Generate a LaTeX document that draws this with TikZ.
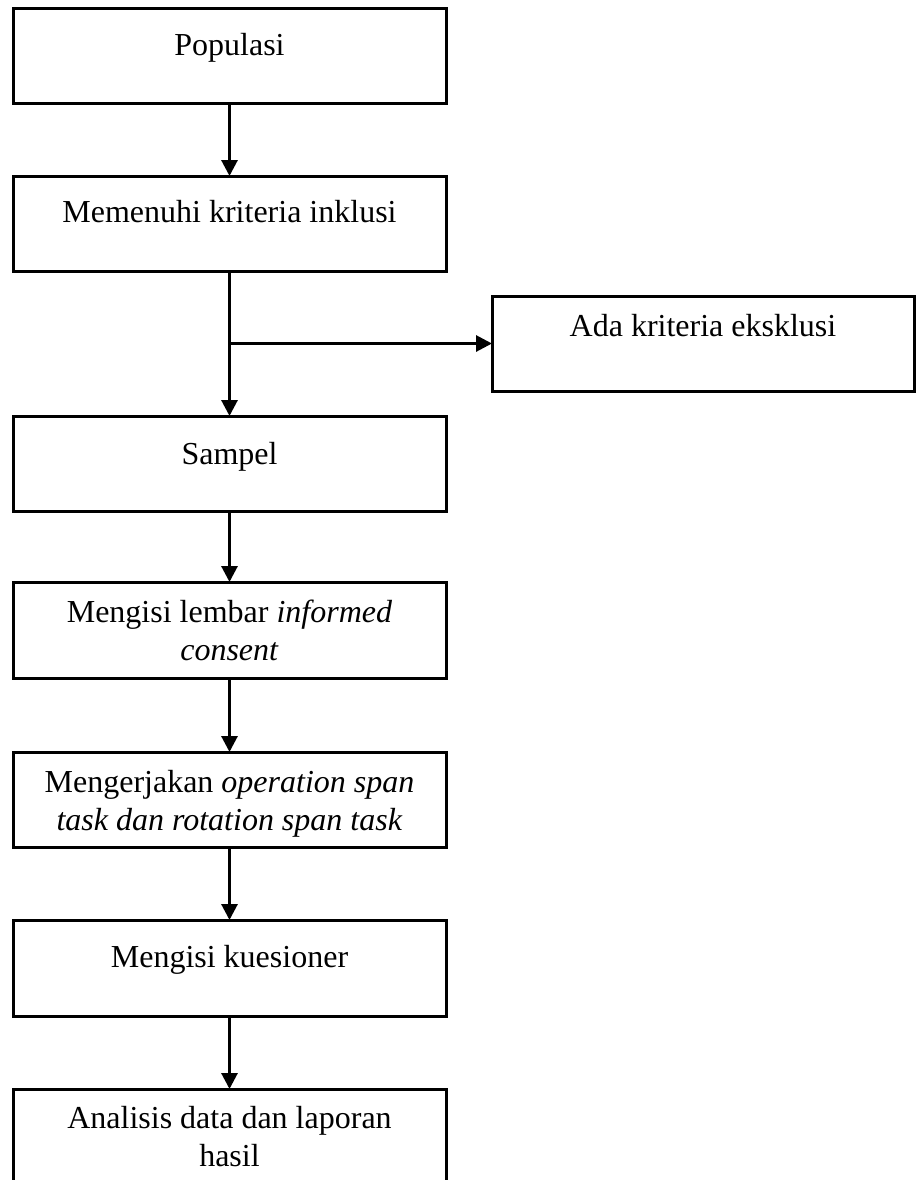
\documentclass[tikz,border=0pt]{standalone}
\usepackage{fontspec}
\setmainfont{Liberation Serif}
\usetikzlibrary{arrows.meta}
\begin{document}
\begin{tikzpicture}[x=0.5pt,y=-0.5pt,
  box/.style={draw, line width=1.5pt, inner sep=0pt, outer sep=0pt,
              minimum width=216.5pt, minimum height=47.5pt},
  txt/.style={font=\fontsize{16}{19}\selectfont, align=center, inner sep=0pt, anchor=north},
  arr/.style={line width=1.5pt, -{Triangle[length=8pt,width=8pt]}}]
\useasboundingbox (0,0) rectangle (916,1180);
% boxes
\node[box] (b1) at (229.5,55.5) {};
\node[box] (b2) at (229.5,223.5) {};
\node[box, minimum width=211pt] (b3) at (703,343.5) {};
\node[box] (b4) at (229.5,463.5) {};
\node[box, minimum height=48pt] (b5) at (229.5,630) {};
\node[box] (b6) at (229.5,799.5) {};
\node[box, minimum height=48pt] (b7) at (229.5,968) {};
\node[box, minimum height=53pt] (b8) at (229.5,1142) {};
% texts
\node[txt] (t1) at (229.5,28.4) {\strut Populasi};
\node[txt] (t2) at (229.5,195.4) {\strut Memenuhi kriteria inklusi};
\node[txt] (t3) at (703,309.4) {\strut Ada kriteria eksklusi};
\node[txt] (t4) at (229.5,437.4) {\strut Sampel};
\node[txt] (t5) at (229.5,595.4) {\strut Mengisi lembar \textit{informed}\\\strut\textit{consent}};
\node[txt] (t6) at (229.5,765.4) {\strut Mengerjakan \textit{operation span}\\\strut\textit{task dan rotation span task}};
\node[txt] (t7) at (229.5,940.4) {\strut Mengisi kuesioner};
\node[txt] (t8) at (229.5,1101.4) {\strut Analisis data dan laporan\\\strut hasil};
% connectors
\coordinate (j) at (229.5,343.5);
\draw[arr] (b1) -- (b2);
\draw[arr] (b2) -- (b4);
\draw[arr] (j) -- (b3.west);
\draw[arr] (b4) -- (b5);
\draw[arr] (b5) -- (b6);
\draw[arr] (b6) -- (b7);
\draw[arr] (b7) -- (b8);
\end{tikzpicture}
\end{document}
